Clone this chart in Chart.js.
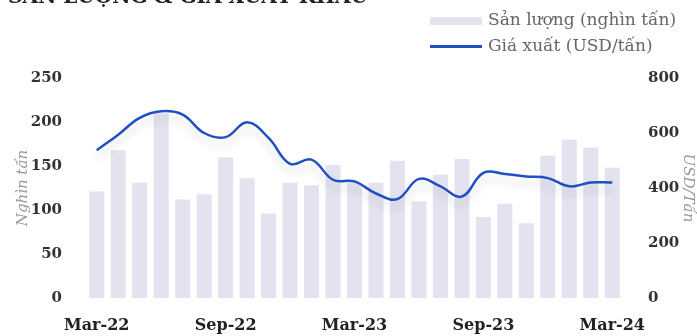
<!DOCTYPE html>
<html>
<head>
<meta charset="utf-8">
<script src="https://cdn.jsdelivr.net/npm/chart.js@4/dist/chart.umd.min.js"></script>
<style>
  body { margin: 0; background: #fff; }
  #wrap { position: relative; width: 697px; height: 336px; overflow: hidden; }
  #title { position: absolute; left: 8px; top: -16px; font: bold 20px "DejaVu Serif", serif; color: #222; white-space: nowrap; }
  .lg { position: absolute; left: 430px; font: 17px "DejaVu Serif", serif; color: #666; white-space: nowrap; }
  .lg span { display: inline-block; width: 52px; margin-right: 6px; vertical-align: middle; }
</style>
</head>
<body>
<div id="wrap">
  <div id="title">SẢN LƯỢNG &amp; GIÁ XUẤT KHẨU</div>
  <div class="lg" style="top:9px"><span style="height:8px;background:#e2e3ef"></span>Sản lượng (nghìn tấn)</div>
  <div class="lg" style="top:35px"><span style="height:3px;background:#1f4fc2"></span>Giá xuất (USD/tấn)</div>
  <canvas id="chart"></canvas>
</div>
<script>
// Monthly data, Mar-22 .. Mar-24
const months = ['Mar-22','Apr-22','May-22','Jun-22','Jul-22','Aug-22','Sep-22','Oct-22','Nov-22','Dec-22',
  'Jan-23','Feb-23','Mar-23','Apr-23','May-23','Jun-23','Jul-23','Aug-23','Sep-23','Oct-23','Nov-23','Dec-23',
  'Jan-24','Feb-24','Mar-24'];
const volume = [121, 168, 131, 210, 112, 118, 160, 136, 96, 131, 128, 151, 131, 131, 156, 110, 140, 158,
  92, 107, 85, 162, 180, 171, 148];
const price = [537, 594, 655, 679, 667, 600, 585, 639, 582, 488, 503, 430, 424, 380, 360, 433, 406, 369,
  455, 451, 442, 436, 406, 420, 420];
const leftTicks = [0, 50, 100, 150, 200, 250];
const rightTicks = [0, 200, 400, 600, 800];

const tickFont = { family: 'DejaVu Serif', size: 15, weight: 'bold' };
const titleFont = { family: 'DejaVu Serif', size: 15, style: 'italic' };

// soft shadow under the price line
const lineShadow = {
  id: 'lineShadow',
  beforeDatasetDraw(chart, args) {
    if (args.index !== 1) return;
    const ctx = chart.ctx;
    ctx.save();
    ctx.shadowColor = 'rgba(0,0,0,0.16)';
    ctx.shadowBlur = 8;
    ctx.shadowOffsetY = 7;
  },
  afterDatasetDraw(chart, args) {
    if (args.index !== 1) return;
    chart.ctx.restore();
  }
};

new Chart(document.getElementById('chart'), {
  type: 'bar',
  data: {
    labels: months,
    datasets: [
      {
        label: 'Sản lượng (nghìn tấn)',
        data: volume,
        backgroundColor: '#e2e3ef',
        yAxisID: 'y',
        barPercentage: 0.7,
        categoryPercentage: 1,
        order: 1
      },
      {
        type: 'line',
        label: 'Giá xuất (USD/tấn)',
        data: price,
        borderColor: '#1f4fc2',
        borderWidth: 2.5,
        pointRadius: 0,
        tension: 0.4,
        yAxisID: 'y1',
        order: 0
      }
    ]
  },
  options: {
    responsive: true,
    maintainAspectRatio: false,
    animation: false,
    layout: { padding: { top: 78, left: 0, right: 0, bottom: 0 } },
    plugins: { legend: { display: false }, tooltip: { enabled: false } },
    scales: {
      x: {
        grid: { display: false },
        border: { display: false },
        ticks: {
          autoSkip: false,
          maxRotation: 0,
          padding: 10,
          color: '#222',
          font: { family: 'DejaVu Serif', size: 16, weight: 'bold' },
          callback: (v, i) => (i % 6 === 0 ? months[i] : '')
        },
        afterFit: s => { s.height = 38; }
      },
      y: {
        position: 'left',
        min: 0, max: 250,
        afterBuildTicks: s => { s.ticks = leftTicks.map(v => ({ value: v })); },
        grid: { display: false },
        border: { display: false },
        ticks: { color: '#333', font: tickFont, padding: 16 },
        title: { display: true, text: 'Nghìn tấn', color: '#999', font: titleFont, padding: { top: 14, bottom: 0 } },
        afterFit: s => { s.width = 86; }
      },
      y1: {
        position: 'right',
        min: 0, max: 800,
        afterBuildTicks: s => { s.ticks = rightTicks.map(v => ({ value: v })); },
        grid: { display: false },
        border: { display: false },
        ticks: { color: '#333', font: tickFont, padding: 17 },
        title: { display: true, text: 'USD/Tấn', color: '#999', font: titleFont, padding: 0 },
        afterFit: s => { s.width = 74; }
      }
    }
  },
  plugins: [lineShadow]
});
</script>
</body>
</html>
